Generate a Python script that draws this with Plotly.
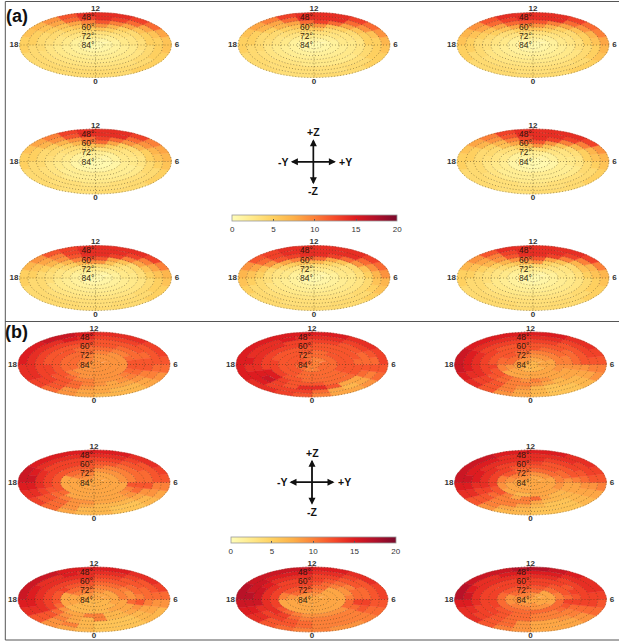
import math
import plotly.graph_objects as go
from plotly.colors import sample_colorscale

# Each panel: rings from outermost (alt. 36-42 deg) to innermost, each ring a list of
# sector values running clockwise from hour 12.
A1 = [[14,14,13,11,8,6,6,5,5,5,4,4,4,4,4,4,4,5,5,6,7,9,12,14],
      [14,13,11,8,6,5,5,5,4,4,4,4,4,4,4,4,4,4,5,5,6,8,11,13],
      [12,10,8,6,5,5,4,4,4,3.5,3.5,3.5,3.5,3.5,3.5,3.5,3.5,4,4,4,5,6,8,10],
      [9,7,5,4,4,3.5,3.5,3,3,3,3,3,3,3,3,3,3,3,3.5,4,4,5,6,8],
      [6,5,4,3.5,3,3,2.5,2.5,2.5,2.5,2.5,2.5,2.5,2.5,2.5,2.5,2.5,2.5,3,3,3.5,4,4.5,5.5],
      [3.5,3,2.5,2,2,2,2,2,2,2.5,3,3.5],[2.5,2,1.5,1.5,1.5,1.5,1.5,1.5,1.5,1.5,2,2.5],
      [1.5,1,1,1,1,1,1,1,1,1,1,1.5],[1,0.5,0.5,0.5,0.5,0.5,0.5,0.5,0.5,0.5,0.5,1]]
A2 = [[14,14,13,11,9,7,6,5,5,4,4,4,3.5,3.5,4,4,4,5,5,6,8,10,13,14],
      [14,14,11,9,6,5,5,5,4,4,3.5,3.5,3.5,3.5,3.5,4,4,4,5,5,7,8,11,14],
      [13,11,8,6,5,5,4,4,3.5,3.5,3.5,3.5,3.5,3.5,3.5,3.5,3.5,4,4,4,5,7,8,11],
      [9,6,5,4,3.5,3,3,3,2.5,2.5,2.5,2.5,2.5,3,3,3,3,3,3.5,4,4,5,6,8],
      [6,4,3.5,3,3,2.5,2.5,2.5,2.5,2.5,2.5,2.5,2.5,2.5,2.5,2.5,2.5,2.5,3,3,3.5,4,4.5,5.5],
      [3.5,3,2.5,2,2,2,2,2,2,2.5,3,3.5],[2.5,2,1.5,1.5,1.5,1.5,1.5,1.5,1.5,1.5,2,2.5],
      [1.5,1,1,1,1,1,1,1,1,1,1,1.5],[1,0.5,0.5,0.5,0.5,0.5,0.5,0.5,0.5,0.5,0.5,1]]
A3 = [[14,14,13,11,10,8,7,6,5,5,4,4,4,4,4,4,5,5,6,7,9,12,14,14],
      [14,14,11,9,7,6,5,5,4,4,4,3.5,3.5,4,4,4,4,5,5,6,8,11,13,14],
      [12,10,8,6,5,5,4,4,4,3.5,3.5,3.5,3.5,3.5,3.5,3.5,4,4,4,5,6,8,11,12],
      [9,7,5,4,4,3.5,3.5,3,3,3,3,3,3,3,3,3,3,3.5,3.5,4,5,6,8,9],
      [6,5,4,3.5,3,3,2.5,2.5,2.5,2.5,2.5,2.5,2.5,2.5,2.5,2.5,2.5,2.5,3,3,3.5,4,5,6],
      [3.5,3,2.5,2,2,2,2,2,2,2.5,3,3.5],[2.5,2,1.5,1.5,1.5,1.5,1.5,1.5,1.5,1.5,2,2.5],
      [1.5,1,1,1,1,1,1,1,1,1,1,1.5],[1,0.5,0.5,0.5,0.5,0.5,0.5,0.5,0.5,0.5,0.5,1]]
A4 = [[14,14,13,10,8,7,6,5,5,4,4,4,3.5,3.5,4,4,4,5,5,6,8,10,13,14],
      [14,14,11,9,7,6,5,4,4,4,3.5,3.5,3.5,3.5,3.5,4,4,4,5,5,7,9,12,14],
      [13,11,9,7,5,5,4,4,3.5,3.5,3.5,3,3,3.5,3.5,3.5,3.5,4,4,4,5,7,9,11],
      [11,8,5,4,3.5,3,3,2.5,2.5,2.5,2.5,2.5,2.5,2.5,2.5,3,3,3,3.5,4,4,5,7,10],
      [7,5,4,3,3,2.5,2.5,2,2,2,2,2,2,2,2,2,2.5,2.5,3,3,3.5,4,4.5,6],
      [3.5,3,2.5,2,2,2,2,2,2,2.5,3,3.5],[2,1.5,1.5,1,1,1,1,1,1,1.5,1.5,2],
      [1.5,1,1,0.5,0.5,0.5,0.5,0.5,0.5,1,1,1.5],[1,0.5,0.5,0.5,0.5,0.5,0.5,0.5,0.5,0.5,0.5,1]]
A5 = [[14,14,14,13,9,7,6,5,5,4,4,4,3.5,3.5,4,4,4,5,5,6,8,10,13,14],
      [14,14,13,10,7,6,5,4,4,4,3.5,3.5,3.5,3.5,3.5,4,4,4,5,5,7,9,12,14],
      [14,13,10,7,5,5,4,4,3.5,3.5,3.5,3,3,3.5,3.5,3.5,4,4,4,4,5,7,10,13],
      [12,9,6,4,3.5,3,3,2.5,2.5,2.5,2.5,2.5,2.5,2.5,2.5,3,3,3,3.5,4,4,6,8,11],
      [9,6,4,3,3,2.5,2.5,2,2,2,2,2,2,2,2,2,2.5,2.5,3,3,3.5,4,5,7],
      [4,3,2.5,2,2,2,2,2,2,2.5,3,4],[2,1.5,1.5,1,1,1,1,1,1,1.5,1.5,2],
      [1.5,1,1,0.5,0.5,0.5,0.5,0.5,0.5,1,1,1.5],[1,0.5,0.5,0.5,0.5,0.5,0.5,0.5,0.5,0.5,0.5,1]]
A6 = [[14,14,14,13,10,7,6,5,5,4,4,4,4,4,4,4,4,5,5,7,9,12,13,14],
      [14,14,13,10,8,6,5,5,4,4,4,3.5,3.5,4,4,4,4,4,5,6,8,10,13,14],
      [14,13,10,8,6,5,4,4,4,3.5,3.5,3.5,3.5,3.5,3.5,3.5,4,4,4,5,7,9,12,14],
      [12,8,6,4,4,3.5,3,3,3,3,3,3,3,3,3,3,3,3.5,3.5,4,5,7,10,12],
      [9,6,4,3,3,2.5,2.5,2.5,2.5,2.5,2.5,2.5,2.5,2.5,2.5,2.5,2.5,2.5,3,3,4,5,7,9],
      [4,3,2.5,2,2,2,2,2,2,2.5,3,4],[2.5,2,1.5,1.5,1.5,1.5,1.5,1.5,1.5,1.5,2,2.5],
      [1.5,1,1,1,1,1,1,1,1,1,1,1.5],[1,0.5,0.5,0.5,0.5,0.5,0.5,0.5,0.5,0.5,0.5,1]]
A7 = [[14,14,14,13,11,9,7,6,5,4,4,4,4,4,4,4,5,6,7,9,12,13,14,14],
      [14,14,14,11,9,7,6,5,4,4,4,3.5,3.5,3.5,4,4,4,5,6,8,11,13,14,14],
      [14,13,11,9,6,5,4,4,4,3.5,3.5,3.5,3.5,3.5,3.5,3.5,4,4,5,6,9,12,13,14],
      [11,8,6,4,4,3.5,3,3,3,3,3,3,3,3,3,3,3,3.5,3.5,4,6,8,10,11],
      [7,5,4,3,3,2.5,2.5,2.5,2.5,2.5,2.5,2.5,2.5,2.5,2.5,2.5,2.5,2.5,3,3,4,5,6,7],
      [3.5,3,2.5,2,2,2,2,2,2,2.5,3,3.5],[2.5,2,1.5,1.5,1.5,1.5,1.5,1.5,1.5,1.5,2,2.5],
      [1.5,1,1,1,1,1,1,1,1,1,1,1.5],[1,0.5,0.5,0.5,0.5,0.5,0.5,0.5,0.5,0.5,0.5,1]]
A8 = [[14,14,14,13,10,7,6,5,5,4,4,4,4,4,4,4,4,5,5,7,9,12,14,14],
      [14,14,13,10,7,6,5,5,4,4,4,3.5,3.5,4,4,4,4,4,5,6,8,10,13,14],
      [14,13,10,7,6,5,4,4,4,3.5,3.5,3.5,3.5,3.5,3.5,3.5,4,4,4,5,7,9,12,14],
      [12,8,6,4,4,3.5,3,3,3,3,3,3,3,3,3,3,3,3.5,3.5,4,5,7,9,11],
      [9,5,4,3,3,2.5,2.5,2.5,2.5,2.5,2.5,2.5,2.5,2.5,2.5,2.5,2.5,2.5,3,3,4,5,6,8],
      [4,3,2.5,2,2,2,2,2,2,2.5,3,3.5],[2.5,2,1.5,1.5,1.5,1.5,1.5,1.5,1.5,1.5,2,2.5],
      [1.5,1,1,1,1,1,1,1,1,1,1,1.5],[1,0.5,0.5,0.5,0.5,0.5,0.5,0.5,0.5,0.5,0.5,1]]

B1 = [[14,14,14,13,13,12,11,9,8,7,7,7,8,9,11,13,14,14,15,15,15,16,16,15],
      [13,13,13,12,12,12,11,10,8,7,7,8,8,9,12,13,14,14,14,14,14,14,15,14],
      [12,12,12,12,11,12,12,10,9,8,8,8,9,11,12,13,13,13,13,13,13,13,13,13],
      [12,12,11,11,11,12,12,11,10,9,8,9,10,11,12,12,13,13,12,12,12,12,12,12],
      [11,11,10,10,11,12,12,11,10,9,9,9,10,10,11,12,12,12,12,12,12,12,11,11],
      [10,9,9,9,9,9,9,10,11,11,11,11],[9,9,9,9,9,9,9,9,11,11,11,10],
      [9,9,9,9,9,9,9,9,10,10,10,10],[9,9,9,9,9,9,9,9,9,9,9,9]]
B2 = [[15,15,14,14,13,13,12,11,9,8,8,10,12,13,14,14,15,15,15,15,15,15,15,15],
      [14,14,13,13,12,11,12,10,8,7,8,11,13,13,13,15,15,14,15,14,14,14,15,14],
      [13,13,12,12,11,11,12,11,8,8,12,14,14,12,13,16,15,14,14,14,14,14,13,13],
      [12,12,12,12,12,11,12,12,11,11,11,12,12,12,13,15,15,13,13,13,13,13,13,13],
      [12,12,12,12,12,12,12,12,11,11,11,11,11,12,12,13,13,13,13,12,12,12,12,12],
      [11,12,12,12,11,11,11,12,12,12,12,12],[11,11,11,11,11,11,11,12,12,12,12,11],
      [10,10,11,11,11,10,10,11,11,12,12,11],[10,10,10,10,10,10,10,10,11,11,11,11]]
B3 = [[15,15,14,14,13,12,10,9,7,6,6,7,8,9,12,14,15,16,16,16,15,15,15,15],
      [14,14,13,13,13,12,10,8,7,6,6,7,8,10,12,13,14,15,15,15,14,14,14,14],
      [13,13,12,12,12,12,9,8,7,7,6,7,9,10,12,13,14,14,14,14,13,13,13,13],
      [12,12,12,11,11,11,9,8,8,7,8,9,10,10,11,12,13,13,13,13,13,12,12,12],
      [12,11,11,11,10,10,9,8,8,8,9,10,9,10,11,12,12,13,12,12,12,12,12,12],
      [10,10,10,9,8,8,8,8,10,11,12,11],[9,9,8,8,8,8,8,8,9,11,11,10],
      [8,8,8,8,7,7,7,8,8,9,9,9],[7,7,7,7,7,7,7,7,8,8,8,8]]
B4 = [[15,15,14,14,13,12,10,8,7,6,6,7,7,8,11,13,14,15,16,16,15,15,15,15],
      [14,14,13,12,12,12,10,9,7,6,6,7,7,9,11,12,14,15,16,15,14,14,14,14],
      [13,13,12,12,11,11,12,9,8,7,7,7,8,9,11,12,13,14,14,14,13,13,13,13],
      [12,12,11,11,11,11,12,11,9,8,8,8,9,9,10,11,12,13,13,13,13,13,13,12],
      [11,10,10,10,10,10,12,10,9,8,8,8,8,8,8,11,12,12,12,12,12,12,12,12],
      [9,9,9,8,8,8,8,8,8,8,11,11],[8,8,8,8,8,8,8,8,8,8,10,10],
      [8,8,8,8,8,8,8,8,8,8,9,9],[8,8,8,8,8,8,8,8,8,8,8,8]]
B5 = [[15,15,14,14,13,12,10,8,7,6,6,6,7,7,9,12,14,15,16,16,16,16,15,15],
      [14,14,14,13,13,12,9,8,7,6,6,6,7,8,10,12,14,15,16,15,15,15,14,14],
      [14,13,13,13,12,11,9,8,7,6,6,7,8,10,10,12,13,14,15,15,14,14,14,14],
      [13,12,12,12,12,10,8,8,7,7,7,8,10,10,10,11,13,14,14,14,14,13,13,13],
      [12,12,12,11,11,9,8,8,7,7,8,11,10,8,10,12,12,13,13,13,13,13,12,12],
      [11,11,10,9,8,8,7,8,9,10,12,11],[9,9,8,8,8,8,8,8,8,9,10,10],
      [8,8,8,8,8,8,8,8,8,8,9,9],[8,8,8,8,8,8,8,8,8,8,8,8]]
B6 = [[15,15,14,14,13,11,9,7,7,6,6,6,7,8,9,12,14,15,16,16,16,16,15,15],
      [14,14,13,12,12,11,9,8,7,6,6,6,7,10,9,12,14,15,15,15,14,14,15,14],
      [13,13,12,12,11,11,10,8,7,6,6,6,7,8,10,12,14,14,14,14,14,14,14,14],
      [12,12,12,11,11,10,12,9,8,7,7,10,7,8,9,11,13,13,13,13,13,13,13,13],
      [11,11,11,10,9,9,11,8,8,7,7,10,10,8,8,9,11,12,12,12,13,12,12,12],
      [10,10,10,8,8,7,7,7,8,8,11,11],[9,8,8,8,7,7,7,7,8,8,10,10],
      [8,8,8,7,7,7,7,7,8,8,8,9],[8,8,8,7,7,7,7,7,7,8,8,8]]
B7 = [[15,15,14,14,13,13,12,11,10,9,9,10,10,11,12,14,15,16,17,17,16,16,16,16],
      [14,14,13,12,12,12,12,11,10,10,10,10,11,12,12,14,15,16,17,16,16,15,15,15],
      [13,13,12,12,11,11,13,12,10,10,10,10,11,12,13,13,14,16,16,16,15,14,14,14],
      [13,12,11,10,11,11,13,11,10,10,10,10,10,11,13,14,14,14,14,14,14,13,13,13],
      [12,11,10,9,9,10,11,11,9,9,9,9,9,10,11,12,13,13,13,13,13,13,13,13],
      [11,8,8,8,8,8,8,8,8,10,12,12],[10,8,8,8,8,8,8,8,8,9,11,11],
      [9,8,8,8,8,8,8,8,8,8,9,9],[8,8,8,8,8,8,8,8,8,8,8,8]]
B8 = [[17,16,15,14,14,13,12,11,9,8,8,8,9,10,12,14,14,15,17,17,16,16,16,17],
      [15,15,14,14,14,13,13,11,9,8,8,8,9,11,12,13,14,15,16,15,14,14,15,15],
      [14,14,13,13,13,13,13,11,10,9,8,8,9,11,12,13,13,14,14,14,14,14,14,14],
      [13,13,13,12,13,12,13,11,10,10,10,10,11,11,12,13,13,13,13,13,13,13,13,13],
      [13,13,12,12,12,11,13,12,11,10,10,10,11,11,12,12,13,13,13,13,13,13,13,13],
      [12,11,10,11,11,11,11,11,11,11,12,12],[11,8,8,8,9,9,10,10,9,9,11,11],
      [9,8,8,8,8,9,9,9,9,9,10,10],[9,8,8,8,8,8,8,8,8,8,9,9]]

PANELS_A = [A1, A2, A3, A4, A5, A6, A7, A8]
PANELS_B = [B1, B2, B3, B4, B5, B6, B7, B8]
ALT_LABELS = ["48°", "60°", "72°", "84°"]
HOUR_LABELS = ["12", "6", "0", "18"]
CBAR_TICKS = [0, 5, 10, 15, 20]
CSCALE = [[0,"#FFFDB8"],[.125,"#FFE98A"],[.25,"#FED060"],[.375,"#FDB048"],[.5,"#FC8038"],
          [.625,"#F64A2A"],[.75,"#DD1C20"],[.875,"#B0102A"],[1,"#7A0A2C"]]
VMAX = 20

W, H = 619, 641
AX, BX = 76, 32.6
CENTRES_A = [(95.5,45),(314,45),(533,45),(95.5,161.5),(533,161.5),(95.5,278),(314,278),(533,278)]
CENTRES_B = [(94,364.5),(312,364.5),(530.5,364.5),(94,482.5),(530.5,482.5),(94,599.5),(312,599.5),(530.5,599.5)]

def pt(c, r, deg):
    t = math.radians(deg)
    return c[0] + AX*r*math.sin(t), c[1] - BX*r*math.cos(t)

bins = {}
for panels, centres in ((PANELS_A, CENTRES_A), (PANELS_B, CENTRES_B)):
    for panel, c in zip(panels, centres):
        nr = len(panel)
        for ir, ring in enumerate(panel):
            ro, ri = 1 - ir/nr, 1 - (ir+1)/nr
            span = 360/len(ring)
            steps = max(2, int(span/5))
            for k, v in enumerate(ring):
                angs = [k*span + span*j/steps for j in range(steps+1)]
                pts = [pt(c, ro, a) for a in angs] + [pt(c, ri, a) for a in reversed(angs)]
                pts.append(pts[0])
                xs, ys = bins.setdefault(v, ([], []))
                xs += [p[0] for p in pts] + [None]
                ys += [p[1] for p in pts] + [None]

fig = go.Figure()
for v in sorted(bins):
    col = sample_colorscale(CSCALE, [v/VMAX])[0]
    xs, ys = bins[v]
    fig.add_trace(go.Scatter(x=xs, y=ys, mode="lines", fill="toself", fillcolor=col,
                             line=dict(color=col, width=0.5), hoverinfo="skip", showlegend=False))

# graticule
gx, gy = [], []
for c in CENTRES_A + CENTRES_B:
    for ir in range(1, 10):
        r = ir/9
        for d in range(0, 361, 6):
            p = pt(c, r, d); gx.append(p[0]); gy.append(p[1])
        gx.append(None); gy.append(None)
    for d in (0, 90):
        for s in (d, d+180):
            p = pt(c, 1, s); gx.append(p[0]); gy.append(p[1])
        gx.append(None); gy.append(None)
fig.add_trace(go.Scatter(x=gx, y=gy, mode="lines", hoverinfo="skip", showlegend=False,
                         line=dict(color="rgba(70,60,30,0.6)", width=0.8, dash="1px,2px")))

# labels
hx, hy, ht, ax_, ay_, at_ = [], [], [], [], [], []
for c in CENTRES_A + CENTRES_B:
    for lab, dx, dy in zip(HOUR_LABELS, (0, 81.5, 0, -81.5), (-36, 0, 36.5, 0)):
        hx.append(c[0]+dx); hy.append(c[1]+dy); ht.append(lab)
    for i, lab in enumerate(ALT_LABELS):
        ax_.append(c[0]-7.5); ay_.append(c[1]-27+9.4*i); at_.append(lab)
fig.add_trace(go.Scatter(x=hx, y=hy, text=ht, mode="text", hoverinfo="skip", showlegend=False,
                         textfont=dict(family="Liberation Sans", size=8, color="#333333", weight="bold")))
fig.add_trace(go.Scatter(x=ax_, y=ay_, text=at_, mode="text", hoverinfo="skip", showlegend=False,
                         textfont=dict(family="Liberation Sans", size=8.5, color="rgba(30,18,8,0.95)")))

# colour bars
for xl, ytop in ((232.3, 215), (230.7, 536.5)):
    fig.add_trace(go.Scatter(x=[-50], y=[-50], mode="markers", hoverinfo="skip", showlegend=False,
        marker=dict(color=[0], colorscale=CSCALE, cmin=0, cmax=VMAX, showscale=True,
            colorbar=dict(orientation="h", x=xl/W, xanchor="left", y=1-ytop/H, yanchor="top",
                len=165, lenmode="pixels", thickness=6, thicknessmode="pixels", xpad=0, ypad=0,
                tickvals=CBAR_TICKS, ticks="inside", ticklen=2, tickcolor="#555", tickwidth=0.6,
                outlinecolor="#999", outlinewidth=0.8, borderwidth=0,
                tickfont=dict(family="Liberation Sans", size=8, color="#333")))))

shapes = []
def frame(x0, y0, x1, y1):
    shapes.extend([
        dict(type="line", x0=x0, y0=y0, x1=x1, y1=y0),
        dict(type="line", x0=x0, y0=y0, x1=x0, y1=y1),
        dict(type="line", x0=x0, y0=y1, x1=x1, y1=y1)])
frame(5.3, 1.5, 619, 321.5)
frame(5.3, 321.5, 619, 640)
for s in shapes:
    s["line"] = dict(color="#555555", width=1)
    s["layer"] = "above"

ann = [dict(x=17, y=15.5, text="<b>(a)</b>", font=dict(size=18)),
       dict(x=16, y=332, text="<b>(b)</b>", font=dict(size=18))]
for (cx, cy) in ((313.4, 161.7), (312, 482.2)):
    arrows = ((cx+22.5, cy, cx-22.5, cy), (cx-22.5, cy, cx+22.5, cy),
              (cx, cy-22.5, cx, cy+22.5), (cx, cy+22.5, cx, cy-22.5))
    for x1, y1, x0, y0 in arrows:
        ann.append(dict(x=x1, y=y1, ax=x0, ay=y0, axref="x", ayref="y", text="", showarrow=True,
                        arrowhead=2, arrowsize=1.0, arrowwidth=1.4, arrowcolor="#111"))
    for lab, dx, dy in (("+Z", 0, -29.5), ("-Z", 0, 29.5), ("-Y", -30, 0), ("+Y", 32, 0)):
        ann.append(dict(x=cx+dx, y=cy+dy, text=f"<b>{lab}</b>", font=dict(size=10.5, color="#111")))
for a in ann:
    a.setdefault("showarrow", False)
    a.setdefault("xref", "x"); a.setdefault("yref", "y")
    f = a.setdefault("font", {}); f.setdefault("family", "Liberation Sans"); f.setdefault("color", "#111")

fig.update_layout(width=W, height=H, margin=dict(l=0, r=0, t=0, b=0, autoexpand=False), autosize=False,
                  paper_bgcolor="white", plot_bgcolor="white", showlegend=False,
                  xaxis=dict(range=[0, W], visible=False, fixedrange=True, domain=[0, 1]),
                  yaxis=dict(range=[H, 0], visible=False, fixedrange=True, domain=[0, 1]),
                  shapes=shapes, annotations=ann)
for s in fig.layout.shapes:
    s.xref = "x"; s.yref = "y"
fig.write_html("out.html", config=dict(displayModeBar=False),
               post_script="document.body.style.margin='0';document.documentElement.style.overflow='hidden';")
